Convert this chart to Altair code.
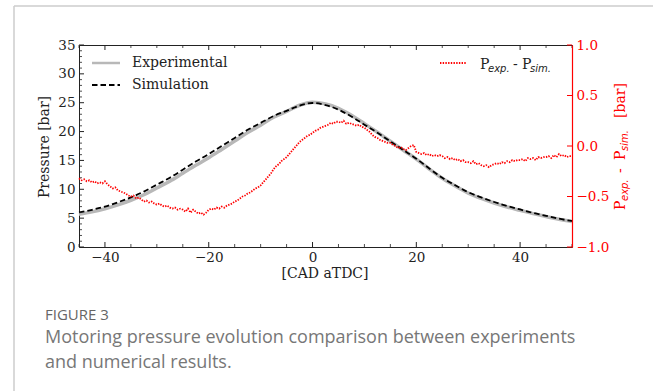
import altair as alt
import pandas as pd
import numpy as np

# ---------------- data ----------------
cad = [-45, -42.5, -40, -37.5, -35, -32.5, -30, -27.5, -25, -22.5, -20, -17.5,
       -15, -12.5, -10, -7.5, -5, -2.5, 0, 2.5, 5, 7.5, 10, 12.5, 15, 17.5,
       20, 22.5, 25, 27.5, 30, 32.5, 35, 37.5, 40, 42.5, 45, 47.5, 50]
p_sim = [6.0, 6.45, 7.0, 7.75, 8.6, 9.6, 10.8, 12.0, 13.4, 14.8, 16.1, 17.5,
         18.9, 20.3, 21.5, 22.7, 23.6, 24.5, 24.95, 24.6, 23.8, 22.6, 21.2, 19.8,
         18.3, 16.8, 15.3, 13.6, 12.0, 10.7, 9.5, 8.6, 7.8, 7.1, 6.5, 5.9, 5.4, 4.9, 4.5]
p_exp = [5.67, 6.08, 6.63, 7.30, 8.10, 9.06, 10.22, 11.39, 12.77, 14.15, 15.47, 16.90,
         18.35, 19.84, 21.11, 22.48, 23.49, 24.56, 25.08, 24.80, 24.04, 22.82, 21.38, 19.88,
         18.33, 16.77, 15.24, 13.51, 11.90, 10.56, 9.34, 8.41, 7.62, 6.94, 6.36, 5.78, 5.29, 4.80, 4.40]

# P_exp - P_sim, every 0.5 CAD from -45 to 50
dp = [
    -0.32, -0.34, -0.33, -0.35, -0.34, -0.36, -0.35, -0.37, -0.36, -0.37,
    -0.35, -0.38, -0.40, -0.42, -0.41, -0.44, -0.45, -0.46, -0.47, -0.49,
    -0.50, -0.49, -0.52, -0.51, -0.53, -0.55, -0.54, -0.56, -0.55, -0.57,
    -0.58, -0.57, -0.59, -0.60, -0.59, -0.61, -0.62, -0.61, -0.63, -0.62,
    -0.63, -0.65, -0.62, -0.66, -0.63, -0.65, -0.67, -0.66, -0.68, -0.66,
    -0.63, -0.62, -0.63, -0.61, -0.62, -0.60, -0.61, -0.59, -0.58, -0.57,
    -0.55, -0.54, -0.52, -0.50, -0.49, -0.47, -0.46, -0.44, -0.42, -0.41,
    -0.39, -0.36, -0.33, -0.30, -0.27, -0.23, -0.20, -0.18, -0.15, -0.13,
    -0.11, -0.08, -0.05, -0.02, 0.01, 0.04, 0.06, 0.08, 0.10, 0.11,
    0.13, 0.15, 0.16, 0.18, 0.19, 0.20, 0.21, 0.23, 0.22, 0.24,
    0.24, 0.23, 0.25, 0.22, 0.23, 0.22, 0.21, 0.20, 0.21, 0.19,
    0.18, 0.16, 0.14, 0.11, 0.09, 0.08, 0.06, 0.05, 0.04, 0.03,
    0.03, 0.01, 0.00, -0.02, -0.01, -0.03, -0.04, -0.02, 0.00, 0.01,
    -0.06, -0.07, -0.08, -0.07, -0.09, -0.08, -0.10, -0.09, -0.10, -0.09,
    -0.10, -0.12, -0.11, -0.13, -0.12, -0.14, -0.13, -0.15, -0.14, -0.16,
    -0.16, -0.17, -0.15, -0.18, -0.17, -0.19, -0.20, -0.19, -0.21, -0.19,
    -0.18, -0.17, -0.18, -0.16, -0.17, -0.15, -0.16, -0.14, -0.15, -0.14,
    -0.14, -0.13, -0.15, -0.12, -0.13, -0.12, -0.14, -0.11, -0.12, -0.11,
    -0.11, -0.10, -0.12, -0.09, -0.11, -0.08, -0.10, -0.09, -0.11, -0.10,
    -0.10,
]
dp_cad = list(np.round(np.arange(-45, 50.01, 0.5), 2))

x_major = [-40, -20, 0, 20, 40]
x_minor = [-45, -35, -30, -25, -15, -10, -5, 5, 10, 15, 25, 30, 35, 45, 50]
y_major = [0, 5, 10, 15, 20, 25, 30, 35]
y_minor = [v for v in range(0, 36) if v % 5 != 0]
r_major = [-1.0, -0.5, 0.0, 0.5, 1.0]

# ---------------- layout ----------------
W, H = 493, 202
SERIF = "DejaVu Serif"
SANS = "DejaVu Sans"
RED = "#ff0000"
INK = "#222222"

X = alt.X("cad:Q", scale=alt.Scale(domain=[-45, 50], nice=False, zero=False),
          axis=alt.Axis(values=x_major, ticks=False, domain=False, grid=False,
                        labelFont=SERIF, labelFontSize=13.5, labelColor=INK,
                        labelPadding=3, title=None))
YL = alt.Y("p:Q", scale=alt.Scale(domain=[0, 35], nice=False, zero=False),
           axis=alt.Axis(values=y_major, ticks=False, domain=False, grid=False,
                         labelFont=SERIF, labelFontSize=13.5, labelColor=INK,
                         labelPadding=4, title=None, orient="left"))
YR = alt.Y("d:Q", scale=alt.Scale(domain=[-1, 1], nice=False, zero=False),
           axis=alt.Axis(values=r_major, format=".1f", ticks=False, domain=True,
                         domainColor=RED, domainWidth=1.2, grid=False,
                         labelFont=SERIF, labelFontSize=13.5, labelColor=RED,
                         labelPadding=4, title=None, orient="right", zindex=2))

df_p = pd.DataFrame({"cad": cad, "p_sim": p_sim, "p_exp": p_exp})
exp_line = alt.Chart(df_p).transform_calculate(p="datum.p_exp").mark_line(
    color="#b8b8b8", strokeWidth=3.5, interpolate="monotone").encode(x=X, y=YL)
sim_line = alt.Chart(df_p).transform_calculate(p="datum.p_sim").mark_line(
    color="#000000", strokeWidth=1.8, strokeDash=[5.5, 3], interpolate="monotone").encode(x=X, y=YL)

lt_major = alt.Chart(pd.DataFrame({"p": y_major})).mark_rule(color=INK, strokeWidth=1).encode(
    y=YL, x=alt.value(0), x2=alt.value(5))
lt_minor = alt.Chart(pd.DataFrame({"p": y_minor})).mark_rule(color=INK, strokeWidth=0.8).encode(
    y=YL, x=alt.value(0), x2=alt.value(3))
left = alt.layer(exp_line, sim_line, lt_major, lt_minor)

df_d = pd.DataFrame({"cad": dp_cad, "d": dp})
diff_line = alt.Chart(df_d).mark_line(color=RED, strokeWidth=1.8, strokeDash=[1.4, 1.3]).encode(x=X, y=YR)
rt_major = alt.Chart(pd.DataFrame({"d": r_major})).mark_rule(color=RED, strokeWidth=1).encode(
    y=YR, x=alt.value(W), x2=alt.value(W - 5))
right = alt.layer(diff_line, rt_major)

bt_major = alt.Chart(pd.DataFrame({"cad": x_major})).mark_rule(color=INK, strokeWidth=1).encode(
    x=X, y=alt.value(H), y2=alt.value(H - 5))
bt_minor = alt.Chart(pd.DataFrame({"cad": x_minor})).mark_rule(color=INK, strokeWidth=0.8).encode(
    x=X, y=alt.value(H), y2=alt.value(H - 3))
tp_major = alt.Chart(pd.DataFrame({"cad": x_major})).mark_rule(color=INK, strokeWidth=1).encode(
    x=X, y=alt.value(0), y2=alt.value(5))
tp_minor = alt.Chart(pd.DataFrame({"cad": x_minor})).mark_rule(color=INK, strokeWidth=0.8).encode(
    x=X, y=alt.value(0), y2=alt.value(3))


def txt(s, x, y, size=14, font=SERIF, color=INK, angle=0, align="left",
        baseline="alphabetic", style="normal", weight="normal"):
    return alt.Chart(pd.DataFrame({"t": [s]})).mark_text(
        font=font, fontSize=size, color=color, angle=angle, align=align,
        baseline=baseline, fontStyle=style, fontWeight=weight).encode(
        text="t:N", x=alt.value(x), y=alt.value(y))


def hline(x1, x2, y, color, width=1.5, dash=None):
    kw = dict(color=color, strokeWidth=width)
    if dash is not None:
        kw["strokeDash"] = dash
    return alt.Chart(pd.DataFrame({"k": [0]})).mark_rule(**kw).encode(
        x=alt.value(x1), x2=alt.value(x2), y=alt.value(y))


deco = [
    # left legend
    hline(13, 41, 18, "#b8b8b8", 2.5),
    hline(13, 41, 40, "#000000", 1.8, [5.5, 3]),
    txt("Experimental", 53, 18, baseline="middle"),
    txt("Simulation", 53, 40, baseline="middle"),
    # right legend
    hline(361, 388, 18, RED, 1.8, [1.4, 1.3]),
    txt("P", 401, 23.5),
    txt("exp.", 409, 26.5, size=10, font=SANS, style="italic"),
    txt("-", 434, 23.5),
    txt("P", 443, 23.5),
    txt("sim.", 451, 26.5, size=10, font=SANS, style="italic"),
    # axis titles
    txt("Pressure [bar]", -34, 102, angle=270, align="center", baseline="middle"),
    txt("[CAD aTDC]", 246, 229, align="center", baseline="middle"),
    txt("P", 546, 165, color=RED, angle=270),
    txt("exp.", 549, 156, size=10, font=SANS, style="italic", color=RED, angle=270),
    txt("-", 546, 128, color=RED, angle=270),
    txt("P", 546, 115, color=RED, angle=270),
    txt("sim.", 549, 106, size=10, font=SANS, style="italic", color=RED, angle=270),
    txt("[bar]", 546, 73, color=RED, angle=270),
    # caption
    txt("FIGURE 3", -34, 270, size=15, font="Open Sans", color="#666666", baseline="middle"),
    txt("Motoring pressure evolution comparison between experiments", -34, 293,
        size=18, font="Open Sans", color="#777777", baseline="middle"),
    txt("and numerical results.", -34, 318, size=18, font="Open Sans",
        color="#777777", baseline="middle"),
    # page frame
    alt.Chart(pd.DataFrame({"k": [0]})).mark_rule(color="#cccccc", strokeWidth=1.5).encode(
        x=alt.value(-65), y=alt.value(-39), y2=alt.value(346)),
    hline(-65, 574, -39, "#cccccc", 1.5),
]

chart = alt.layer(left, right, bt_major, bt_minor, tp_major, tp_minor, *deco).resolve_scale(
    y="independent"
).properties(
    width=W, height=H,
    autosize=alt.AutoSizeParams(type="none"),
    padding={"left": 79, "top": 45, "right": 81, "bottom": 144},
    background="white",
).configure_view(stroke=INK, strokeWidth=1)

chart.save("out.html", embed_options={"renderer": "svg", "actions": False})
